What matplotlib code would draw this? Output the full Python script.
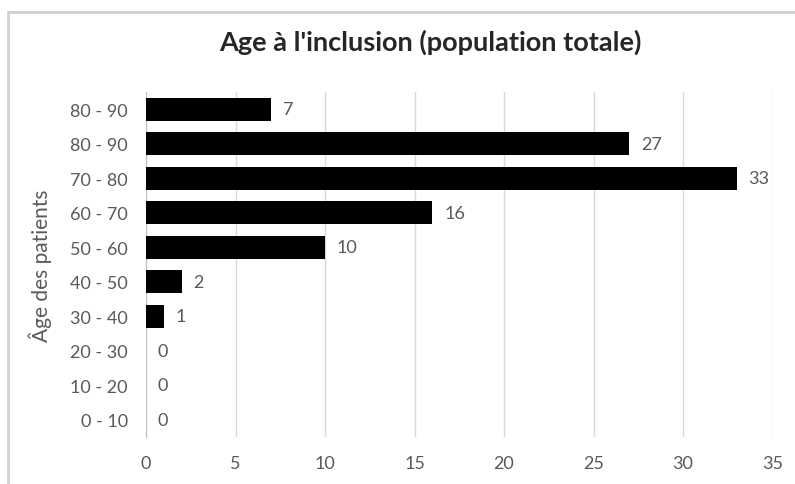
import matplotlib.pyplot as plt
from matplotlib.patches import Rectangle

categories = ["0 - 10", "10 - 20", "20 - 30", "30 - 40", "40 - 50",
              "50 - 60", "60 - 70", "70 - 80", "80 - 90", "80 - 90"]
values = [0, 0, 0, 1, 2, 10, 16, 33, 27, 7]

plt.rcParams['font.family'] = ['Lato', 'DejaVu Sans']
gray = '#595959'

fig = plt.figure(figsize=(7.95, 4.85), dpi=100)
ax = fig.add_axes([0.1837, 0.097, 0.788, 0.711])

pos = range(len(categories))
ax.barh(pos, values, height=0.66, color='black', zorder=3)
for i, v in enumerate(values):
    ax.text(v + 0.65, i, str(v), va='center', ha='left', fontsize=13, color=gray)

ax.set_yticks(list(pos))
ax.set_yticklabels(categories)
ax.set_ylim(-0.5, len(categories) - 0.5)
ax.set_xlim(0, 35)
ax.set_xticks(range(0, 36, 5))
ax.tick_params(length=0, labelsize=13, colors=gray)
ax.tick_params(axis='x', pad=13)
ax.tick_params(axis='y', pad=13)
ax.grid(axis='x', color='#d9d9d9', linewidth=1, zorder=0)
for s in ['top', 'right', 'bottom']:
    ax.spines[s].set_visible(False)
ax.spines['left'].set_color('#bfbfbf')
ax.set_ylabel("Âge des patients", fontsize=15, color=gray)
ax.yaxis.set_label_coords(-0.15, 0.5)

fig.text(0.541, 0.913, "Age à l'inclusion (population totale)", ha='center', va='center',
         fontsize=19.5, fontweight='bold', color='#262626')

fig.patches.append(Rectangle((0.0095, -0.1), 1.1, 1.0732, transform=fig.transFigure,
                             fill=False, edgecolor='#d0d0d0', linewidth=2))

fig.savefig('out.png', dpi=100)
